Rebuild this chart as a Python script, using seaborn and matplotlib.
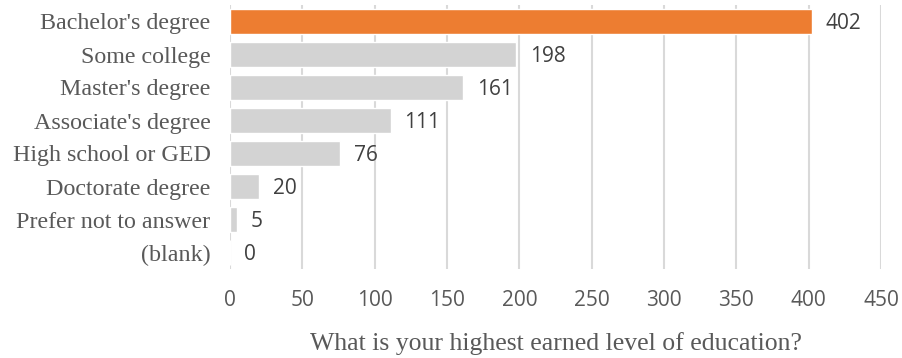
import matplotlib
matplotlib.use("Agg")
import matplotlib.pyplot as plt
import seaborn as sns
import pandas as pd

categories = ["Bachelor's degree", "Some college", "Master's degree", "Associate's degree",
              "High school or GED", "Doctorate degree", "Prefer not to answer", "(blank)"]
counts = [402, 198, 161, 111, 76, 20, 5, 0]
highlight = "Bachelor's degree"
x_ticks = [0, 50, 100, 150, 200, 250, 300, 350, 400, 450]
x_title = "What is your highest earned level of education?"

sns.set_theme(style="white")
plt.rcParams["font.family"] = ["Liberation Serif", "DejaVu Serif"]

fig = plt.figure(figsize=(9.02, 3.58), dpi=100)
ax = fig.add_axes([230 / 902, 1 - 269 / 358, 651 / 902, 264 / 358])

df = pd.DataFrame({"category": categories, "count": counts})
palette = {c: ("#ED7D31" if c == highlight else "#D3D3D3") for c in categories}
sns.barplot(data=df, y="category", x="count", hue="category", palette=palette,
            orient="h", width=0.76, saturation=1, legend=False, ax=ax, zorder=3)

for cont in ax.containers:
    for t in ax.bar_label(cont, padding=10, fontsize=15, color="#404040", family="Open Sans"):
        t.xyann = (10, -1.5)

ax.set_xlim(0, 450)
ax.set_ylim(len(categories) - 0.5, -0.5)
ax.set_xticks(x_ticks)
ax.set_xticklabels([str(t) for t in x_ticks], family="Open Sans", fontsize=15, color="#595959")
for lbl in ax.get_yticklabels():
    lbl.set_fontsize(17.3)
    lbl.set_color("#595959")
ax.tick_params(axis="both", length=0)
ax.tick_params(axis="y", pad=14)
ax.tick_params(axis="x", pad=15)
ax.set_ylabel("")
ax.set_xlabel(x_title, fontsize=18.5, color="#595959", labelpad=15)
ax.xaxis.grid(True, color="#D9D9D9", linewidth=1.5, zorder=0)
ax.yaxis.grid(False)
ax.set_axisbelow(True)
for s in ax.spines.values():
    s.set_visible(False)

fig.savefig("out.png", dpi=100)
